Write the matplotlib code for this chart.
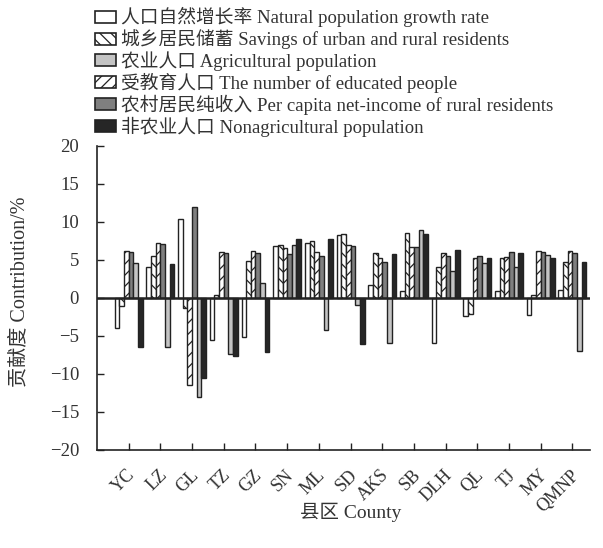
import numpy as np
import matplotlib
matplotlib.use("Agg")
import matplotlib.pyplot as plt
import matplotlib.transforms as mtransforms
from matplotlib.patches import Patch

plt.rcParams['font.family'] = ['Liberation Serif', 'Noto Sans CJK SC']
plt.rcParams['hatch.linewidth'] = 0.9
plt.rcParams['axes.unicode_minus'] = True

counties = ['YC', 'LZ', 'GL', 'TZ', 'GZ', 'SN', 'ML', 'SD', 'AKS', 'SB',
            'DLH', 'QL', 'TJ', 'MY', 'QMNP']

natural_growth = [-4.0, 4.0, 10.4, -5.5, -5.2, 6.85, 7.2, 8.3, 1.7, 0.9,
                  -6.0, -2.4, 0.9, -2.2, 1.05]
savings = [-1.05, 5.5, -1.3, 0.4, 4.9, 6.9, 7.5, 8.4, 5.9, 8.5,
           4.0, -2.15, 5.2, 0.35, 4.65]
educated = [6.2, 7.15, -11.4, 6.05, 6.1, 6.5, 6.0, 7.0, 5.2, 6.75,
            5.95, 5.3, 5.4, 6.1, 6.2]
net_income = [6.05, 7.05, 11.9, 5.95, 5.9, 5.75, 5.5, 6.85, 4.7, 6.75,
              5.5, 5.5, 6.05, 6.05, 5.95]
agricultural = [4.6, -6.4, -13.0, -7.4, 2.0, 7.0, -4.2, -0.9, -5.9, 8.9,
                3.5, 4.6, 4.0, 5.6, -7.05]
nonagricultural = [-6.4, 4.4, -10.6, -7.6, -7.1, 7.7, 7.7, -6.1, 5.75, 8.4,
                   6.3, 5.2, 5.95, 5.3, 4.65]

labels = {
    'natural': '人口自然增长率 Natural population growth rate',
    'savings': '城乡居民储蓄 Savings of urban and rural residents',
    'agri': '农业人口 Agricultural population',
    'edu': '受教育人口 The number of educated people',
    'income': '农村居民纯收入 Per capita net-income of rural residents',
    'nonagri': '非农业人口 Nonagricultural population',
}

edge = '#222222'
text_color = '#333333'
styles = {
    'natural': dict(facecolor='white', hatch=None),
    'savings': dict(facecolor='white', hatch='\\\\\\'),
    'agri': dict(facecolor='#c4c4c4', hatch=None),
    'edu': dict(facecolor='white', hatch='///'),
    'income': dict(facecolor='#7f7f7f', hatch=None),
    'nonagri': dict(facecolor='#262626', hatch=None),
}

# drawing order within each county group
plot_order = [('natural', natural_growth), ('savings', savings),
              ('edu', educated), ('income', net_income),
              ('agri', agricultural), ('nonagri', nonagricultural)]

fig = plt.figure(figsize=(6.03, 5.48), dpi=100)
ax = fig.add_axes([0.161, 0.179, 0.817, 0.555])

x = np.arange(len(counties))
w = 0.147
n = len(plot_order)
for k, (key, vals) in enumerate(plot_order):
    st = styles[key]
    ax.bar(x + (k - (n - 1) / 2) * w, vals, width=w,
           facecolor=st['facecolor'], hatch=st['hatch'],
           edgecolor=edge, linewidth=1.0, zorder=2)

ax.axhline(0, color=edge, linewidth=1.8, zorder=3)

ax.set_xlim(-1.0, 14.55)
ax.set_ylim(-20, 20)
ax.set_yticks(np.arange(-20, 21, 5))
ax.set_xticks(x)
ax.set_xticklabels(counties, rotation=45, ha='right', va='top',
                   rotation_mode='anchor', fontsize=13, color=text_color)
ax.tick_params(axis='both', direction='in', length=5, width=1.0,
               color=edge, labelcolor=text_color)
ax.tick_params(axis='x', pad=12)
ax.tick_params(axis='y', pad=13, labelsize=13.5)
shift = mtransforms.ScaledTranslation(-2 / 100, 0, fig.dpi_scale_trans)
for lbl in ax.get_xticklabels():
    lbl.set_transform(lbl.get_transform() + shift)
for side in ['top', 'right']:
    ax.spines[side].set_visible(False)
for side in ['left', 'bottom']:
    ax.spines[side].set_color(edge)
    ax.spines[side].set_linewidth(1.2)

ax.set_ylabel('贡献度 Contribution/%', fontsize=14.5, color=text_color)
ax.yaxis.set_label_coords(-0.137, 0.52)
ax.set_xlabel('县区 County', fontsize=14, color=text_color)
ax.xaxis.set_label_coords(0.514, -0.175)

legend_keys = ['natural', 'savings', 'agri', 'edu', 'income', 'nonagri']
handles = [Patch(facecolor=styles[k]['facecolor'], hatch=styles[k]['hatch'],
                 edgecolor=edge, linewidth=1.2, label=labels[k])
           for k in legend_keys]
leg = fig.legend(handles=handles, loc='upper left',
                 bbox_to_anchor=(0.132, 1.014), frameon=False, fontsize=13.5,
                 handlelength=1.15, handleheight=0.6, handletextpad=0.25,
                 labelspacing=0.1, borderpad=0.3)
for t in leg.get_texts():
    t.set_color(text_color)

fig.savefig('out.png', dpi=100)
